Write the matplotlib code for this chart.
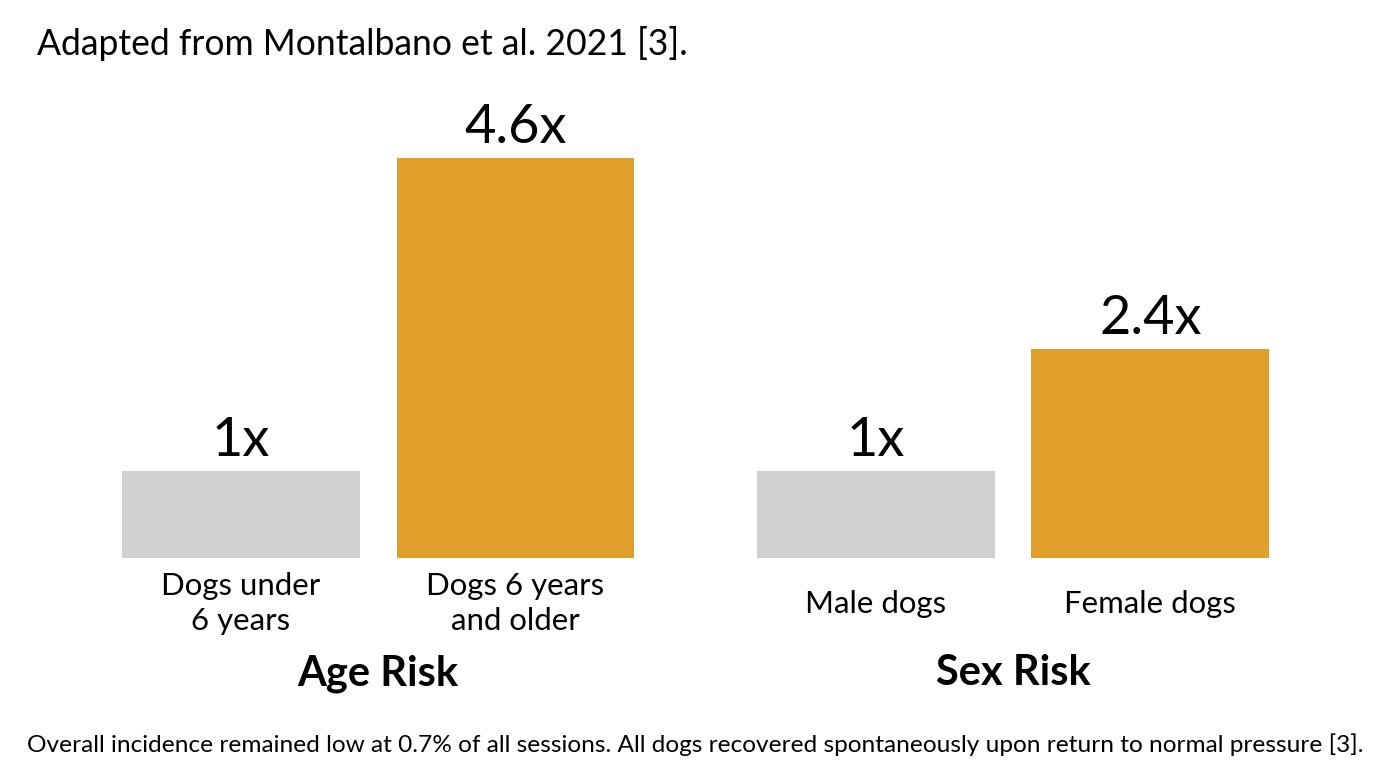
import matplotlib
matplotlib.use("Agg")
import matplotlib.pyplot as plt

plt.rcParams['font.family'] = ['Lato', 'DejaVu Sans']

# data
categories = ["Dogs under\n6 years", "Dogs 6 years\nand older", "Male dogs", "Female dogs"]
values = [1.0, 4.6, 1.0, 2.4]
value_labels = ["1x", "4.6x", "1x", "2.4x"]
groups = ["Age Risk", "Sex Risk"]
title = "Adapted from Montalbano et al. 2021 [3]."
footer = ("Overall incidence remained low at 0.7% of all sessions. "
          "All dogs recovered spontaneously upon return to normal pressure [3].")

positions = [0, 1, 2.313, 3.313]
colors = ["#D1D1D1", "#E09E2A", "#D1D1D1", "#E09E2A"]

fig = plt.figure(figsize=(13.76, 7.68), dpi=100)
ax = fig.add_axes([0.0754, 0.2734, 0.8598, 0.5664])
ax.bar(positions, values, width=0.867, color=colors)
ax.set_xlim(-0.5, 3.81)
ax.set_ylim(0, 5)
ax.axis("off")

for x, v, lab in zip(positions, values, value_labels):
    ax.annotate(lab, (x, v), xytext=(0, 11), textcoords="offset points",
                ha="center", va="baseline", fontsize=39)

for x, c in zip(positions, categories):
    ax.annotate(c, (x, 0), xytext=(0, -33), textcoords="offset points",
                ha="center", va="center", fontsize=22.4, linespacing=1.31)

group_x = [(positions[0] + positions[1]) / 2, (positions[2] + positions[3]) / 2]
for x, g in zip(group_x, groups):
    ax.annotate(g, (x, 0), xytext=(0, -83), textcoords="offset points",
                ha="center", va="center", fontsize=30, fontweight="bold")

fig.text(0.027, 0.944, title, ha="left", va="center", fontsize=25.6)
fig.text(0.0196, 0.030, footer, ha="left", va="center", fontsize=17.6)

fig.savefig("out.png", dpi=100)
